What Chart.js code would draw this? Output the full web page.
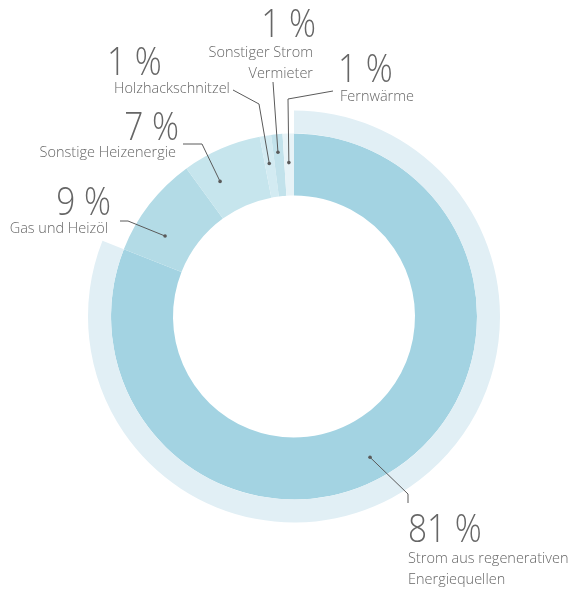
<!DOCTYPE html>
<html>
<head>
<meta charset="utf-8">
<script src="https://cdn.jsdelivr.net/npm/chart.js@4/dist/chart.umd.min.js"></script>
<style>
  html, body { margin: 0; padding: 0; background: #fff; }
  canvas { display: block; }
</style>
</head>
<body>
<canvas id="myChart" width="572" height="590"></canvas>
<script>
// data
const categories = ['Strom aus regenerativen Energiequellen', 'Gas und Heizöl', 'Sonstige Heizenergie', 'Holzhackschnitzel', 'Sonstiger Strom Vermieter', 'Fernwärme'];
const shares = [81, 9, 7, 1, 1, 1];
const labelLines = [
    ['Strom aus regenerativen', 'Energiequellen'],
    ['Gas und Heizöl'],
    ['Sonstige Heizenergie'],
    ['Holzhackschnitzel'],
    ['Sonstiger Strom', 'Vermieter'],
    ['Fernwärme']
];

const sliceColors = ['#a3d3e2', '#b3dbe6', '#c6e5ed', '#d3ebf2', '#c2e2eb', '#e7f3f7'];
const haloColors = ['#e1eff5', 'rgba(0,0,0,0)', 'rgba(0,0,0,0)', 'rgba(0,0,0,0)', 'rgba(0,0,0,0)', 'rgba(0,0,0,0)'];

// label layout, offsets from chart centre (px)
// t = where the dot sits along the slice, r = dot radius
const labelLayout = [
    { t: 0.52, r: 160, path: [[114, 177.5], [114, 186.5]], align: 'left', numX: 114, numY: 225.5, textX: 114, textY: 246.5 },
    { t: 0.32, r: 152, path: [[-166, -95.5], [-174, -95.5]], align: 'right', numX: -183, numY: -101.5, textX: -186, textY: -83.5 },
    { t: 0.29, r: 154, path: [[-92, -172.5], [-111, -172.5]], align: 'right', numX: -115, numY: -176.5, textX: -118, textY: -159.5 },
    { t: 0.45, r: 155, path: [[-35, -212.5], [-61, -226.5]], align: 'left', numX: -187, numY: -241.5, textX: -180, textY: -223.5 },
    { t: 0.45, r: 165, path: [[-21, -234.5]], align: 'right', numX: 22, numY: -279.5, textX: 19, textY: -259.5 },
    { t: 0.47, r: 154, path: [[-6, -217.5], [39, -225.5]], align: 'left', numX: 44, numY: -234.5, textX: 46, textY: -215.5 }
];

const leaderLabels = {
    id: 'leaderLabels',
    afterDatasetsDraw(chart) {
        const ctx = chart.ctx;
        const meta = chart.getDatasetMeta(1);
        ctx.save();
        meta.data.forEach((arc, i) => {
            const lay = labelLayout[i];
            const cx = arc.x, cy = arc.y;
            const a = arc.startAngle + lay.t * (arc.endAngle - arc.startAngle);
            const dx = cx + lay.r * Math.cos(a);
            const dy = cy + lay.r * Math.sin(a);

            ctx.strokeStyle = '#5a5a5a';
            ctx.lineWidth = 1;
            ctx.beginPath();
            ctx.moveTo(dx, dy);
            lay.path.forEach(p => ctx.lineTo(cx + p[0], cy + p[1]));
            ctx.stroke();

            ctx.fillStyle = '#5a5a5a';
            ctx.beginPath();
            ctx.arc(dx, dy, 1.8, 0, Math.PI * 2);
            ctx.fill();

            ctx.fillStyle = '#666666';
            ctx.textAlign = lay.align;
            ctx.textBaseline = 'alphabetic';

            // big number, slightly condensed
            ctx.save();
            ctx.translate(cx + lay.numX, cy + lay.numY);
            ctx.scale(0.88, 1);
            ctx.font = '300 38px "Open Sans"';
            ctx.fillText(shares[i] + ' %', 0, 0);
            ctx.restore();

            ctx.font = '300 14.5px "Open Sans"';
            labelLines[i].forEach((line, k) => {
                ctx.fillText(line, cx + lay.textX, cy + lay.textY + k * 21);
            });
        });
        ctx.restore();
    }
};

new Chart(document.getElementById('myChart'), {
    type: 'doughnut',
    data: {
        labels: categories,
        datasets: [{
            data: shares,
            backgroundColor: haloColors,
            borderWidth: 0,
            weight: 23
        }, {
            data: shares,
            backgroundColor: sliceColors,
            borderWidth: 0,
            weight: 62
        }]
    },
    options: {
        responsive: false,
        animation: false,
        events: [],
        cutout: 121,
        layout: {
            padding: { left: 88, right: 72, top: 110, bottom: 67 }
        },
        plugins: {
            legend: { display: false },
            tooltip: { enabled: false }
        }
    },
    plugins: [leaderLabels]
});
</script>
</body>
</html>
